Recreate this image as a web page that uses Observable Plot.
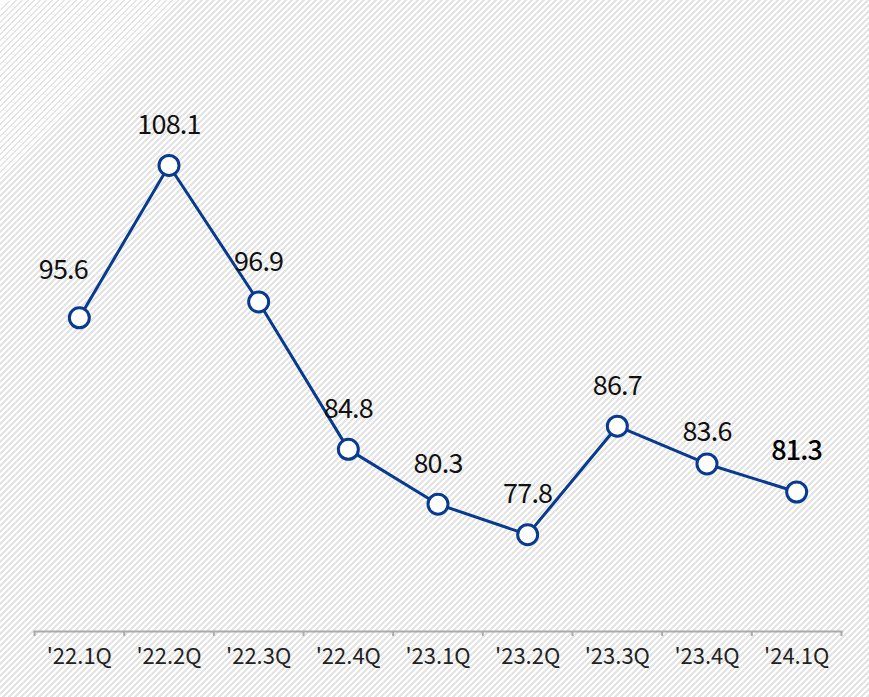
<!DOCTYPE html>
<html>
<head>
<meta charset="utf-8">
<script src="https://cdn.jsdelivr.net/npm/d3@7"></script>
<script src="https://cdn.jsdelivr.net/npm/@observablehq/plot@0.6"></script>
<style>
  html, body { margin: 0; padding: 0; background: #fff; }
  #chart {
    width: 869px; height: 697px; overflow: hidden;
    border-top-left-radius: 14px;
    background: repeating-linear-gradient(135deg, #ffffff 0px, #ffffff 2.2px, #e4e4e4 2.2px, #e4e4e4 4.24px);
  }
  #chart svg { display: block; }
</style>
</head>
<body>
<div id="chart"></div>
<script>
const categories = ["'22.1Q", "'22.2Q", "'22.3Q", "'22.4Q", "'23.1Q", "'23.2Q", "'23.3Q", "'23.4Q", "'24.1Q"];
const values = [95.6, 108.1, 96.9, 84.8, 80.3, 77.8, 86.7, 83.6, 81.3];
const labels = ["95.6", "108.1", "96.9", "84.8", "80.3", "77.8", "86.7", "83.6", "81.3"];

const data = categories.map((c, i) => ({i, c, v: values[i], label: labels[i]}));
const font = "'Noto Sans CJK KR', 'Noto Sans', sans-serif";
const blue = "#083a8f";
const n = categories.length;

const chart = Plot.plot({
  width: 869,
  height: 697,
  marginLeft: 34,
  marginRight: 28,
  marginTop: 20,
  marginBottom: 66,
  x: {type: "linear", domain: [-0.5, n - 0.5], label: null},
  y: {domain: [69.85, 120], axis: null},
  style: {background: "transparent", fontFamily: font, overflow: "visible"},
  marks: [
    Plot.frame({anchor: "bottom", stroke: "#aaaaaa", strokeWidth: 2}),
    Plot.axisX(d3.range(-0.5, n, 1), {tickSize: 5, tickFormat: () => "", stroke: "#aaaaaa", strokeWidth: 2, label: null}),
    Plot.axisX(d3.range(0, n), {
      tickSize: 0, tickPadding: 17,
      tickFormat: i => categories[i],
      fontSize: 22, fill: "#222", fontFamily: font, label: null
    }),
    Plot.line(data, {x: "i", y: "v", stroke: blue, strokeWidth: 3}),
    Plot.dot(data, {x: "i", y: "v", r: 10, fill: "#fff", stroke: blue, strokeWidth: 3}),
    Plot.text(data.filter(d => d.i === 0), {x: "i", y: "v", text: "label", dx: -16, dy: -47, fontSize: 27, fill: "#111", fontFamily: font}),
    Plot.text(data.filter(d => d.i > 0 && d.i !== 7 && d.i !== n - 1), {x: "i", y: "v", text: "label", dy: -40, fontSize: 27, fill: "#111", fontFamily: font}),
    Plot.text(data.filter(d => d.i === 7), {x: "i", y: "v", text: "label", dy: -32, fontSize: 27, fill: "#111", fontFamily: font}),
    Plot.text(data.filter(d => d.i === n - 1), {x: "i", y: "v", text: "label", dy: -41, fontSize: 27, fontWeight: 500, fill: "#000", fontFamily: font})
  ]
});
chart.querySelectorAll("g[aria-label='text'] text").forEach(t => t.style.letterSpacing = "-0.8px");
document.getElementById("chart").appendChild(chart);
</script>
</body>
</html>
